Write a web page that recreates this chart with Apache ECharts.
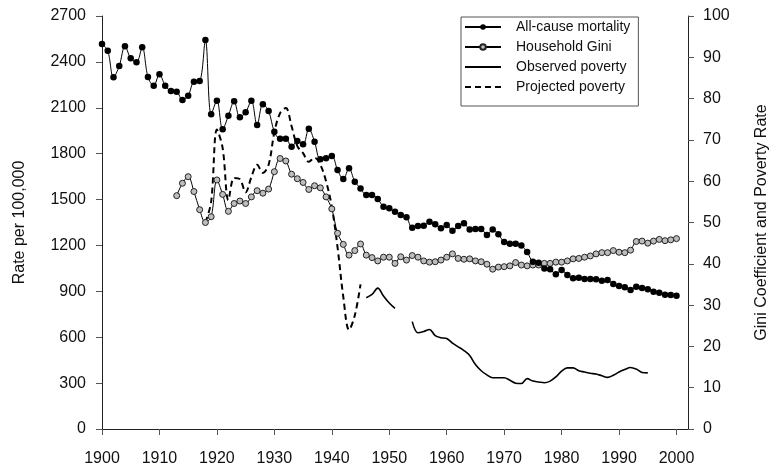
<!DOCTYPE html>
<html>
<head>
<meta charset="utf-8">
<script src="https://cdn.jsdelivr.net/npm/echarts@6/dist/echarts.min.js"></script>
<style>
html,body{margin:0;padding:0;background:#fff;}
#chart{width:771px;height:474px;}
</style>
</head>
<body>
<div id="chart"></div>
<script>
// ---- data ----
const xTickYears = [1900,1910,1920,1930,1940,1950,1960,1970,1980,1990,2000];
const leftTicks = [0,300,600,900,1200,1500,1800,2100,2400,2700];
const rightTicks = [0,10,20,30,40,50,60,70,80,90,100];

const mortalityStart = 1900;
const mortality = [
 2517,2473,2299,2373,2502,2423,2397,2495,2301,2244,
 2319,2244,2209,2205,2151,2179,2270,2275,2543,2057,
 2146,1959,2048,2142,2038,2070,2146,1987,2123,2079,
 1943,1898,1898,1845,1882,1861,1963,1878,1763,1770,
 1785,1693,1634,1704,1617,1573,1530,1530,1503,1453,
 1443,1420,1399,1384,1316,1327,1329,1355,1338,1312,
 1334,1296,1327,1345,1305,1307,1307,1268,1305,1273,
 1222,1211,1211,1200,1157,1094,1087,1050,1044,1012,
 1039,1007,985,989,981,981,979,969,974,948,
 935,926,909,930,922,913,898,891,878,876,
 871
];

const giniStart = 1913;
const gini = [
 56.5,59.5,61.1,57.5,53.1,50.0,51.4,
 60.3,56.8,52.7,54.6,55.2,54.6,56.2,57.7,57.1,58.1,
 62.3,65.5,64.9,61.7,60.6,59.7,58.0,58.9,58.4,56.2,
 53.3,47.4,44.7,42.1,43.2,44.8,42.1,41.5,40.7,41.6,
 41.6,40.1,41.7,40.9,42.0,41.6,40.7,40.4,40.5,40.9,
 41.6,42.4,41.3,41.1,41.2,40.7,40.5,39.9,38.7,39.2,
 39.3,39.5,40.3,39.7,39.5,39.7,39.7,40.1,40.1,40.4,
 40.4,40.7,41.2,41.3,41.6,41.9,42.4,42.7,42.7,43.2,
 42.8,42.7,43.3,45.4,45.5,45.0,45.5,45.9,45.6,45.8,
 46.1
];

const observedStart = 1946;
const observedPoverty = [
 31.8,32.6,34.1,32.2,30.5,29.2,null,null,26.0,23.3,
 23.6,24.1,22.6,22.1,21.9,20.8,19.9,19.0,17.8,15.6,
 14.1,13.1,12.4,12.4,12.4,11.8,11.1,11.0,12.2,11.6,
 11.4,11.2,11.6,12.6,14.0,14.8,14.8,14.1,13.8,13.5,
 13.3,12.9,12.5,13.0,13.8,14.4,14.9,14.5,13.7,13.6
];

const projectedStart = 1918;
const projectedPoverty = [
 50.0,55.0,72.5,68.0,55.4,60.8,60.5,57.3,61.0,64.0,
 62.0,64.0,71.8,76.5,77.7,73.3,68.5,66.8,64.7,65.7,
 64.0,60.0,53.8,44.0,32.0,24.0,27.5,35.0
];

function pairs(start, arr){ return arr.map((v,i)=>[start+i, v]); }

const FONT = 'Liberation Sans, Arial, Helvetica, sans-serif';
const chart = echarts.init(document.getElementById('chart'), null, {renderer:'canvas'});
const plain = v => String(v);

chart.setOption({
  animation:false,
  backgroundColor:'#fff',
  textStyle:{fontFamily:FONT,color:'#111'},
  grid:{left:102,right:83,top:16,bottom:45,containLabel:false,outerBoundsMode:'none'},
  legend:{
    orient:'vertical',
    left:461, top:17,
    padding:[3,8,12,3],
    itemGap:6,
    itemWidth:36, itemHeight:7,
    borderColor:'#555', borderWidth:1,
    backgroundColor:'#fff',
    textStyle:{fontFamily:FONT,fontSize:14,color:'#111',padding:[0,0,0,10]},
    data:[
      {name:'All-cause mortality'},
      {name:'Household Gini'},
      {name:'Observed poverty', itemStyle:{opacity:0}},
      {name:'Projected poverty', itemStyle:{opacity:0}}
    ]
  },
  xAxis:{
    type:'value', min:1900, max:2002,
    axisLine:{show:true,onZero:false,lineStyle:{color:'#222',width:1}},
    axisTick:{show:true,length:6,customValues:xTickYears,lineStyle:{color:'#555'}},
    axisLabel:{fontSize:16,color:'#111',margin:22,customValues:xTickYears,fontFamily:FONT,formatter:plain},
    splitLine:{show:false}
  },
  yAxis:[
    {
      type:'value', min:0, max:2700, interval:300,
      name:'Rate per 100,000', nameLocation:'middle', nameGap:74, nameRotate:90,
      nameTextStyle:{fontSize:16,color:'#111',fontFamily:FONT},
      axisLine:{show:true,lineStyle:{color:'#222'}},
      axisTick:{show:true,length:6,lineStyle:{color:'#555'}},
      axisLabel:{fontSize:16,color:'#111',margin:16,fontFamily:FONT,formatter:plain},
      splitLine:{show:false}
    },
    {
      type:'value', min:0, max:100, interval:10, position:'right',
      name:'Gini Coefficient and Poverty Rate', nameLocation:'middle', nameGap:66, nameRotate:90,
      nameTextStyle:{fontSize:16,color:'#111',fontFamily:FONT},
      axisLine:{show:true,lineStyle:{color:'#222'}},
      axisTick:{show:true,length:6,lineStyle:{color:'#555'}},
      axisLabel:{fontSize:16,color:'#111',margin:15,fontFamily:FONT,formatter:plain},
      splitLine:{show:false}
    }
  ],
  series:[
    {
      name:'Projected poverty', type:'line', yAxisIndex:1,
      data:pairs(projectedStart, projectedPoverty),
      smooth:0.35, symbol:'none',
      lineStyle:{color:'#000',width:2,type:[6,4]},
      itemStyle:{color:'#000'}, z:2
    },
    {
      name:'Observed poverty', type:'line', yAxisIndex:1,
      data:pairs(observedStart, observedPoverty),
      smooth:0.35, symbol:'none', connectNulls:false,
      lineStyle:{color:'#000',width:1.6},
      itemStyle:{color:'#000'}, z:2
    },
    {
      name:'Household Gini', type:'line', yAxisIndex:1,
      data:pairs(giniStart, gini),
      smooth:0.35, symbol:'circle', symbolSize:6,
      lineStyle:{color:'#000',width:1},
      itemStyle:{color:'#bdbdbd',borderColor:'#222',borderWidth:1}, z:3
    },
    {
      name:'All-cause mortality', type:'line', yAxisIndex:0,
      data:pairs(mortalityStart, mortality),
      smooth:0.35, symbol:'circle', symbolSize:6.5,
      lineStyle:{color:'#000',width:1},
      itemStyle:{color:'#000',borderColor:'#000',borderWidth:0}, z:4
    }
  ]
});
</script>
</body>
</html>
